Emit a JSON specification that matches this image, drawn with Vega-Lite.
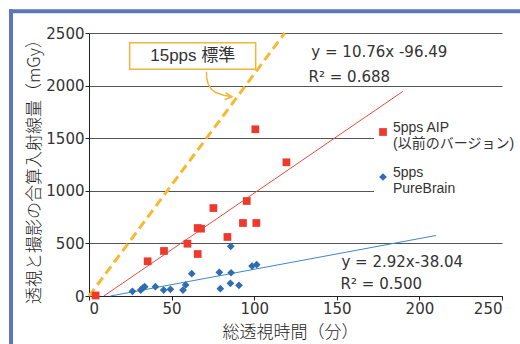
{
  "$schema": "https://vega.github.io/schema/vega-lite/v6.json",
  "width": 413,
  "height": 263,
  "autosize": "none",
  "padding": {"left": 89, "top": 33, "right": 18, "bottom": 48},
  "background": "white",
  "config": {"view": {"stroke": null}, "font": "DejaVu Sans"},
  "datasets": {
    "points": [
      {"minutes": 4, "dose": 5, "device": "5pps AIP（以前のバージョン）"},
      {"minutes": 35.5, "dose": 330, "device": "5pps AIP（以前のバージョン）"},
      {"minutes": 45.4, "dose": 428, "device": "5pps AIP（以前のバージョン）"},
      {"minutes": 59.6, "dose": 497, "device": "5pps AIP（以前のバージョン）"},
      {"minutes": 65.8, "dose": 399, "device": "5pps AIP（以前のバージョン）"},
      {"minutes": 65.8, "dose": 646, "device": "5pps AIP（以前のバージョン）"},
      {"minutes": 67.8, "dose": 640, "device": "5pps AIP（以前のバージョン）"},
      {"minutes": 75.3, "dose": 836, "device": "5pps AIP（以前のバージョン）"},
      {"minutes": 83.8, "dose": 561, "device": "5pps AIP（以前のバージョン）"},
      {"minutes": 93.2, "dose": 694, "device": "5pps AIP（以前のバージョン）"},
      {"minutes": 95.5, "dose": 903, "device": "5pps AIP（以前のバージョン）"},
      {"minutes": 101.3, "dose": 694, "device": "5pps AIP（以前のバージョン）"},
      {"minutes": 100.7, "dose": 1585, "device": "5pps AIP（以前のバージョン）"},
      {"minutes": 119.5, "dose": 1271, "device": "5pps AIP（以前のバージョン）"},
      {"minutes": 26.3, "dose": 45, "device": "5pps PureBrain"},
      {"minutes": 31.3, "dose": 57, "device": "5pps PureBrain"},
      {"minutes": 32.5, "dose": 75, "device": "5pps PureBrain"},
      {"minutes": 33.7, "dose": 88, "device": "5pps PureBrain"},
      {"minutes": 40.2, "dose": 88, "device": "5pps PureBrain"},
      {"minutes": 45.2, "dose": 57, "device": "5pps PureBrain"},
      {"minutes": 49.3, "dose": 64, "device": "5pps PureBrain"},
      {"minutes": 56.9, "dose": 57, "device": "5pps PureBrain"},
      {"minutes": 58.5, "dose": 105, "device": "5pps PureBrain"},
      {"minutes": 62.2, "dose": 212, "device": "5pps PureBrain"},
      {"minutes": 78.9, "dose": 225, "device": "5pps PureBrain"},
      {"minutes": 79.5, "dose": 69, "device": "5pps PureBrain"},
      {"minutes": 85.6, "dose": 121, "device": "5pps PureBrain"},
      {"minutes": 86.0, "dose": 221, "device": "5pps PureBrain"},
      {"minutes": 85.8, "dose": 472, "device": "5pps PureBrain"},
      {"minutes": 90.8, "dose": 102, "device": "5pps PureBrain"},
      {"minutes": 98.7, "dose": 285, "device": "5pps PureBrain"},
      {"minutes": 101.5, "dose": 298, "device": "5pps PureBrain"}
    ],
    "fitAIP": [
      {"minutes": 9, "dose": 0},
      {"minutes": 190, "dose": 1945}
    ],
    "fitPB": [
      {"minutes": 13, "dose": 0},
      {"minutes": 210, "dose": 575}
    ],
    "standard": [
      {"minutes": 0, "dose": 0},
      {"minutes": 118.5, "dose": 2500}
    ],
    "arrow": [
      {"minutes": 71.07, "dose": 2132, "part": "curve", "k": 1},
      {"minutes": 71.25, "dose": 2072, "part": "curve", "k": 2},
      {"minutes": 72.16, "dose": 2015, "part": "curve", "k": 3},
      {"minutes": 73.97, "dose": 1968, "part": "curve", "k": 4},
      {"minutes": 76.7, "dose": 1934, "part": "curve", "k": 5},
      {"minutes": 81.54, "dose": 1908, "part": "curve", "k": 6},
      {"minutes": 86.56, "dose": 1894, "part": "curve", "k": 7},
      {"minutes": 82.75, "dose": 1932, "part": "head", "k": 1},
      {"minutes": 86.56, "dose": 1894, "part": "head", "k": 2},
      {"minutes": 82.14, "dose": 1868, "part": "head", "k": 3}
    ],
    "one": [{}]
  },
  "layer": [
    {
      "data": {"name": "standard"},
      "mark": {"type": "line", "color": "#f7b92f", "strokeWidth": 3, "strokeDash": [9, 5]},
      "encoding": {
        "x": {
          "field": "minutes", "type": "quantitative",
          "scale": {"domain": [0, 250], "nice": false},
          "axis": {
            "values": [0, 50, 100, 150, 200, 250], "format": "d",
            "grid": false,
            "domainColor": "#222", "tickColor": "#222", "tickSize": 4,
            "labelPadding": 1, "labelFontSize": 15, "labelColor": "#333", "labelFont": "DejaVu Sans",
            "title": "総透視時間（分）",
            "titleFont": "Noto Sans CJK JP", "titleFontSize": 17, "titleFontWeight": 300, "titleColor": "#1e1e1e",
            "titleX": 201, "titleY": 36, "titleAlign": "center", "titleBaseline": "middle"
          }
        },
        "y": {
          "field": "dose", "type": "quantitative",
          "scale": {"domain": [0, 2500], "nice": false},
          "axis": {
            "values": [0, 500, 1000, 1500, 2000, 2500], "format": "d",
            "grid": true, "gridColor": "#555555", "gridWidth": 1,
            "domainColor": "#222", "tickColor": "#222", "tickSize": 4,
            "labelPadding": 1, "labelFontSize": 15, "labelColor": "#333", "labelFont": "DejaVu Sans",
            "title": "透視と撮影の合算入射線量（mGy）",
            "titleFont": "Noto Sans CJK JP", "titleFontSize": 17, "titleFontWeight": 300, "titleColor": "#1e1e1e",
            "titleX": -55, "titleY": 134, "titleAngle": -90, "titleAlign": "center", "titleBaseline": "middle"
          }
        }
      }
    },
    {
      "data": {"name": "fitAIP"},
      "mark": {"type": "line", "strokeWidth": 1, "color": "#ee4a3c"},
      "encoding": {
        "x": {"field": "minutes", "type": "quantitative"},
        "y": {"field": "dose", "type": "quantitative"}
      }
    },
    {
      "data": {"name": "fitPB"},
      "mark": {"type": "line", "strokeWidth": 1, "color": "#3f88c8"},
      "encoding": {
        "x": {"field": "minutes", "type": "quantitative"},
        "y": {"field": "dose", "type": "quantitative"}
      }
    },
    {
      "data": {"name": "points"},
      "mark": {"type": "point", "filled": true, "opacity": 1},
      "encoding": {
        "x": {"field": "minutes", "type": "quantitative"},
        "y": {"field": "dose", "type": "quantitative"},
        "color": {
          "field": "device", "type": "nominal",
          "scale": {"domain": ["5pps AIP（以前のバージョン）", "5pps PureBrain"], "range": ["#ee3a2c", "#2f6db3"]},
          "legend": {
            "orient": "none", "legendX": 285, "legendY": 90,
            "title": null,
            "labelFont": "Liberation Sans, Noto Sans CJK JP", "labelFontSize": 14, "labelColor": "#333",
            "labelBaseline": "alphabetic", "labelLineHeight": 20, "labelLimit": 200,
            "labelExpr": "datum.label == '5pps PureBrain' ? ['5pps', 'PureBrain'] : ['5pps AIP', '(以前のバージョン)']",
            "symbolSize": 60, "symbolStrokeWidth": 0, "rowPadding": 15, "labelOffset": 3,
            "fillColor": "white", "padding": 2
          }
        },
        "shape": {
          "field": "device", "type": "nominal",
          "scale": {"domain": ["5pps AIP（以前のバージョン）", "5pps PureBrain"], "range": ["square", "diamond"]},
          "legend": {
            "orient": "none", "legendX": 285, "legendY": 90,
            "title": null,
            "labelFont": "Liberation Sans, Noto Sans CJK JP", "labelFontSize": 14, "labelColor": "#333",
            "labelBaseline": "alphabetic", "labelLineHeight": 20, "labelLimit": 200,
            "labelExpr": "datum.label == '5pps PureBrain' ? ['5pps', 'PureBrain'] : ['5pps AIP', '(以前のバージョン)']",
            "symbolSize": 60, "symbolStrokeWidth": 0, "rowPadding": 15, "labelOffset": 3,
            "fillColor": "white", "padding": 2
          }
        },
        "size": {"value": 60}
      }
    },
    {
      "data": {"name": "arrow"},
      "mark": {"type": "line", "color": "#f2b53c", "strokeWidth": 1.5},
      "encoding": {
        "x": {"field": "minutes", "type": "quantitative"},
        "y": {"field": "dose", "type": "quantitative"},
        "detail": {"field": "part"},
        "order": {"field": "k", "type": "quantitative"}
      }
    },
    {
      "data": {"name": "one"},
      "mark": {"type": "rect", "fill": "white", "stroke": "#f2b53c", "strokeWidth": 1.5},
      "encoding": {
        "x": {"datum": 24.6, "type": "quantitative"},
        "x2": {"datum": 100.9},
        "y": {"datum": 2407, "type": "quantitative"},
        "y2": {"datum": 2155}
      }
    },
    {
      "data": {"name": "one"},
      "mark": {"type": "text", "text": "15pps 標準", "font": "Liberation Sans, Noto Sans CJK JP", "fontSize": 17, "color": "#333", "align": "center", "baseline": "middle"},
      "encoding": {
        "x": {"datum": 62.8, "type": "quantitative"},
        "y": {"datum": 2281, "type": "quantitative"}
      }
    },
    {
      "data": {"name": "one"},
      "mark": {"type": "text", "text": "y  = 10.76x -96.49", "fontSize": 15, "color": "#333", "align": "left", "baseline": "middle"},
      "encoding": {
        "x": {"datum": 134.6, "type": "quantitative"},
        "y": {"datum": 2322, "type": "quantitative"}
      }
    },
    {
      "data": {"name": "one"},
      "mark": {"type": "text", "text": "R² = 0.688", "fontSize": 15, "color": "#333", "align": "left", "baseline": "middle"},
      "encoding": {
        "x": {"datum": 132.9, "type": "quantitative"},
        "y": {"datum": 2085, "type": "quantitative"}
      }
    },
    {
      "data": {"name": "one"},
      "mark": {"type": "text", "text": "y  = 2.92x-38.04", "fontSize": 15, "color": "#333", "align": "left", "baseline": "middle"},
      "encoding": {
        "x": {"datum": 152.8, "type": "quantitative"},
        "y": {"datum": 323, "type": "quantitative"}
      }
    },
    {
      "data": {"name": "one"},
      "mark": {"type": "text", "text": "R² = 0.500", "fontSize": 15, "color": "#333", "align": "left", "baseline": "middle"},
      "encoding": {
        "x": {"datum": 152.3, "type": "quantitative"},
        "y": {"datum": 117, "type": "quantitative"}
      }
    },
    {
      "data": {"name": "one"},
      "mark": {"type": "rule", "color": "#5b77b9", "strokeWidth": 4},
      "encoding": {
        "x": {"datum": -47.2, "type": "quantitative"},
        "y": {"datum": 2725, "type": "quantitative"},
        "y2": {"datum": -500}
      }
    },
    {
      "data": {"name": "one"},
      "mark": {"type": "rule", "color": "#5b77b9", "strokeWidth": 4},
      "encoding": {
        "x": {"datum": -48.4, "type": "quantitative"},
        "x2": {"datum": 270},
        "y": {"datum": 2706, "type": "quantitative"}
      }
    }
  ]
}
